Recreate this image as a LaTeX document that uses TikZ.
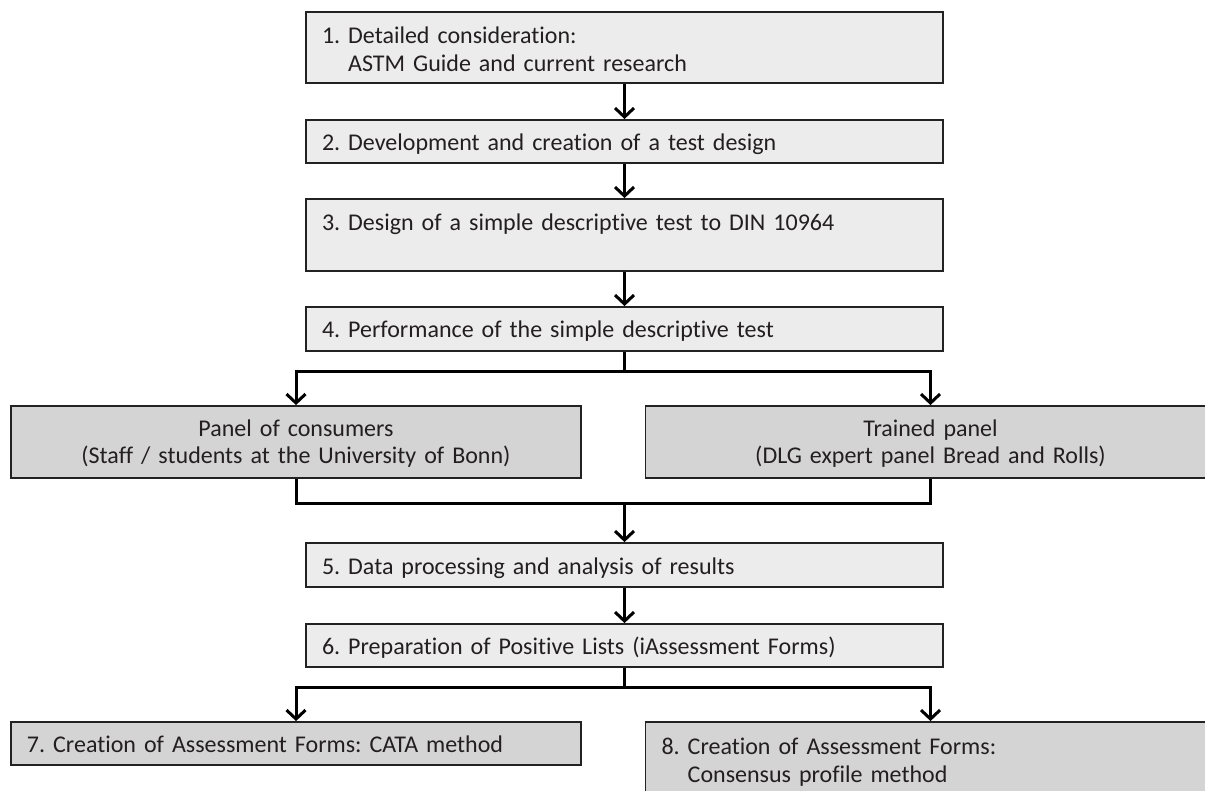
\documentclass[tikz,border=0pt]{standalone}
\usepackage{fontspec}
\setmainfont{Carlito}[Ligatures=NoCommon]
\usetikzlibrary{arrows.meta}
\definecolor{boxlight}{HTML}{ECECEC}
\definecolor{boxdark}{HTML}{D3D4D3}
\definecolor{edge}{HTML}{222222}
\definecolor{ink}{HTML}{231F20}
\frenchspacing
\begin{document}
\begin{tikzpicture}[x=1pt,y=-1pt]
    \tikzstyle{every node}+=[inner sep=0pt, text=ink, font=\fontsize{24}{28}\selectfont]
    \tikzstyle{stepbox}=[draw=edge, line width=1.8pt, fill=boxlight, minimum width=637, minimum height=71, text width=605, inner xsep=16, align=left, text height=24, text depth=6]
    \tikzstyle{twoline}=[text height=18, text depth=25]
    \tikzstyle{panelbox}=[draw=edge, line width=1.8pt, fill=boxdark, minimum width=570, minimum height=72, text width=540, align=center, font=\fontsize{24}{26}\selectfont, text height=18, text depth=28]
    \tikzstyle{formbox}=[stepbox, fill=boxdark, minimum width=570, text width=538]
    \tikzstyle{line}=[draw=black, line width=3pt]
    \tikzstyle{arr}=[line, -{Straight Barb[length=9pt,width=19pt]}]
    \useasboundingbox (0,0) rectangle (1205,791);
    \clip (0,0) rectangle (1205,791);
    \node [stepbox, twoline] (s1) at (624.5,47.5) {1. Detailed consideration:\\\hphantom{1. }ASTM Guide and current research};
    \node [stepbox, minimum height=43] (s2) at (624.5,141.5) {2. Development and creation of a test design};
    \node [stepbox, minimum height=72, text height=18, text depth=26] (s3) at (624.5,235) {3. Design of a simple descriptive test to DIN 10964};
    \node [stepbox, minimum height=44] (s4) at (624.5,329) {4. Performance of the simple descriptive test};
    \node [panelbox] (p1) at (296,442) {Panel of consumers\\(Staff / students at the University of Bonn)};
    \node [panelbox] (p2) at (930.5,442) {Trained panel\\(DLG expert panel Bread and Rolls)};
    \node [stepbox, minimum height=44] (s5) at (624.5,565) {5. Data processing and analysis of results};
    \node [stepbox, minimum height=43] (s6) at (624.5,645.5) {6. Preparation of Positive Lists (iAssessment Forms)};
    \node [formbox, minimum height=43] (s7) at (296,743.5) {7. Creation of Assessment Forms: CATA method};
    \node [formbox, twoline] (s8) at (930.5,757.5) {8. Creation of Assessment Forms:\\\hphantom{8. }Consensus profile method};
    \coordinate (j1) at (624.5,372);
    \coordinate (j2) at (624.5,503);
    \coordinate (j3) at (624.5,687);
    \draw [arr] (s1) -- (s2);
    \draw [arr] (s2) -- (s3);
    \draw [arr] (s3) -- (s4);
    \draw [line] (s4.south) -- (j1);
    \draw [arr] (j1) -| (p1.north);
    \draw [arr] (j1) -| (p2.north);
    \draw [line] (p1.south) |- (j2) -| (p2.south);
    \draw [arr] (j2) -- (s5.north);
    \draw [arr] (s5) -- (s6);
    \draw [line] (s6.south) -- (j3);
    \draw [arr] (j3) -| (s7.north);
    \draw [arr] (j3) -| (s8.north);
\end{tikzpicture}
\end{document}
